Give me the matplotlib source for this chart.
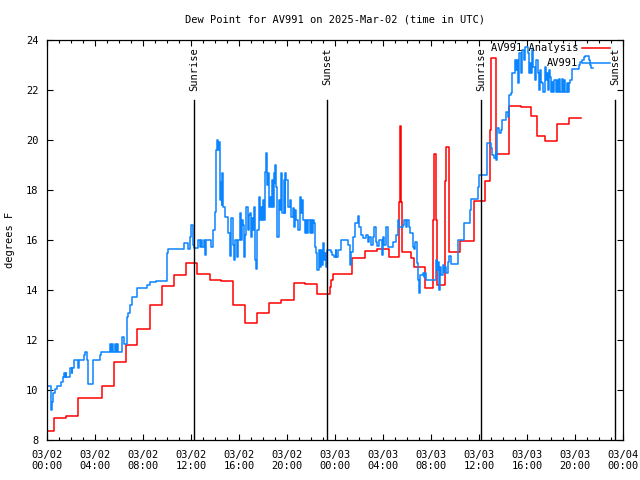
import matplotlib
matplotlib.use("Agg")
import matplotlib.pyplot as plt

plt.rcParams['font.family'] = ['DejaVu Sans Mono']
plt.rcParams['font.size'] = 7.5

# hours since 03/02 00:00 UTC
red_hours = [0, 0.6, 1.6, 2.55, 4.55, 5.55, 6.55, 7.5, 8.55, 9.6, 10.6, 11.6,
             12.5, 13.55, 14.5, 15.5, 16.5, 17.5, 18.5, 19.5, 20.55, 21.5, 22.5,
             23.55, 23.7, 23.85, 25.4, 26.5, 27.5, 28.5, 29.37, 29.45, 29.52,
             29.6, 30.35, 30.55, 31.5, 32.17, 32.25, 32.43, 32.5, 33.13, 33.2,
             33.28, 33.47, 34.45, 35.55, 36.46, 36.88, 36.96, 37.45, 38.5,
             39.46, 40.35, 40.8, 41.54, 42.46, 43.48, 44.5]
red_vals = [8.36, 8.9, 8.97, 9.7, 10.15, 11.1, 11.8, 12.44, 13.39, 14.16, 14.6,
            15.07, 14.64, 14.4, 14.35, 13.4, 12.7, 13.07, 13.47, 13.59, 14.27,
            14.23, 13.84, 14.1, 14.4, 14.64, 15.27, 15.55, 15.63, 15.32, 17.5,
            20.56, 17.5, 15.53, 15.27, 14.93, 14.08, 16.8, 19.44, 16.8, 14.2,
            15.53, 18.36, 19.7, 15.5, 15.97, 17.57, 18.35, 20.4, 23.27, 19.44,
            21.37, 21.3, 20.96, 20.17, 19.96, 20.63, 20.87, 20.87]

blue_hours = [0.00, 0.30, 0.39, 0.52, 0.67, 0.80, 1.16, 1.36, 1.42, 1.48, 1.55,
              1.62, 1.91, 2.05, 2.12, 2.27, 2.60, 2.69, 3.10, 3.20, 3.30, 3.44,
              3.85, 4.41, 4.50, 5.24, 5.34, 5.44, 5.54, 5.64, 5.74, 5.84, 5.93,
              6.27, 6.40, 6.68, 6.76, 6.90, 7.05, 7.51, 8.34, 8.60, 9.07, 9.96,
              10.05, 11.40, 11.76, 11.90,
              12.04, 12.17, 12.29, 12.59, 12.73, 12.83, 12.95, 13.06, 13.14,
              13.29, 13.70, 13.84, 14.03, 14.12, 14.18, 14.25, 14.31, 14.39,
              14.47, 14.55, 14.62, 14.70, 14.80, 15.10, 15.22, 15.37, 15.50,
              15.60, 15.70, 15.85, 15.95, 16.06, 16.15, 16.25, 16.33, 16.42,
              16.52, 16.61, 16.72, 16.80, 16.89, 17.00, 17.08, 17.16, 17.25,
              17.35, 17.42, 17.53, 17.64, 17.72, 17.80, 17.90, 17.99, 18.10,
              18.19, 18.28, 18.36, 18.41, 18.48, 18.55, 18.65, 18.74, 18.82,
              18.91, 18.97, 19.03, 19.11, 19.19, 19.30, 19.42, 19.53, 19.62,
              19.72, 19.80, 19.87, 19.94, 20.08, 20.22, 20.35, 20.49, 20.60,
              20.68, 20.77, 20.90, 21.05, 21.18, 21.25, 21.32, 21.46, 21.55,
              21.66, 21.76, 21.88, 21.98, 22.08, 22.16, 22.24, 22.34, 22.44,
              22.52, 22.63, 22.72, 22.82, 22.90, 22.99, 23.08, 23.16, 23.22,
              23.30, 23.69, 23.78, 23.90, 24.05, 24.12, 24.29, 24.46, 25.07,
              25.21, 25.35, 25.48, 25.68, 25.90, 25.98, 26.18, 26.31, 26.60,
              26.74, 26.87, 27.01, 27.15, 27.29, 27.40, 27.51, 27.70, 27.90,
              28.00, 28.12, 28.26, 28.40, 28.62, 28.81, 29.09, 29.23, 29.37,
              29.64, 29.78, 29.90, 30.02, 30.14, 30.28, 30.47, 30.62, 30.70,
              30.84, 30.95, 31.02, 31.11, 31.31, 31.45, 31.51, 31.59, 32.42,
              32.48, 32.55, 32.65, 32.75, 32.86, 32.97, 33.05, 33.11, 33.25,
              33.39, 33.53, 33.67, 34.22, 34.78, 35.27, 35.33, 35.88, 36.02,
              36.63, 36.96, 37.10, 37.25, 37.38, 37.45, 37.52, 37.69, 37.80,
              37.92, 38.29, 38.41, 38.54, 38.63, 38.75, 39.04, 39.11, 39.18,
              39.26, 39.33, 39.47, 39.60, 39.73, 39.87, 40.07, 40.18, 40.29,
              40.36, 40.43, 40.50, 40.68, 40.79, 40.89, 40.99, 41.06, 41.12,
              41.19, 41.26, 41.33, 41.47, 41.54, 41.61, 41.68, 41.75, 41.82,
              41.89, 41.96, 42.03, 42.10, 42.19, 42.29, 42.40, 42.51, 42.60,
              42.70, 42.79, 42.90, 43.01, 43.10, 43.20, 43.30, 43.40, 43.49,
              43.62, 43.76, 44.31, 44.45, 44.60, 44.75, 44.87, 45.15, 45.25,
              45.34, 45.50]
blue_vals = [10.16, 9.20, 9.53, 9.87, 10.03, 10.16, 10.33, 10.53, 10.67, 10.53,
             10.67, 10.53, 10.87, 10.67, 10.87, 11.20, 10.87, 11.20, 11.40,
             11.53, 11.20, 10.24, 11.20, 11.40, 11.53, 11.83, 11.53, 11.83,
             11.53, 11.83, 11.53, 11.83, 11.53, 12.13, 11.83, 12.93, 13.07,
             13.40, 13.73, 14.07, 14.20, 14.33, 14.36, 15.47, 15.63, 15.89,
             15.63, 16.13,
             16.60, 15.80, 15.67, 16.00, 15.70, 16.00, 15.70, 16.00, 15.40,
             16.00, 15.70, 16.40, 17.13, 19.60, 20.00, 19.60, 19.90, 17.60,
             18.30, 17.40, 18.67, 17.33, 16.93, 16.27, 15.35, 16.87, 15.80,
             15.20, 16.00, 15.30, 16.00, 17.07, 16.00, 16.80, 16.60, 15.30,
             16.20, 17.30, 16.40, 17.00, 17.07, 16.13, 16.90, 16.40, 17.33,
             15.20, 14.85, 16.40, 17.73, 16.80, 17.33, 16.80, 17.60, 16.80,
             18.73, 19.47, 18.20, 18.67, 17.33, 17.73, 17.30, 18.40, 17.33,
             18.67, 18.27, 19.00, 18.13, 16.13, 17.60, 17.20, 18.67, 17.07,
             18.40, 17.07, 18.67, 18.40, 17.33, 17.60, 16.93, 17.27, 16.53,
             17.20, 16.80, 16.40, 17.73, 17.07, 17.60, 16.80, 16.27, 16.80,
             16.27, 16.80, 16.27, 16.80, 16.27, 16.80, 16.67, 15.73, 15.47,
             14.80, 15.60, 14.93, 15.60, 15.00, 15.87, 15.20, 15.47, 14.93,
             15.60, 15.53, 15.40, 15.33, 15.60, 15.33, 15.60, 16.00, 15.80,
             15.00, 15.50, 16.10, 16.67, 16.96, 16.50, 16.20, 16.07, 16.20,
             15.90, 16.13, 15.80, 16.10, 16.50, 15.90, 15.75, 16.00, 15.40,
             16.10, 15.80, 16.53, 15.73, 15.70, 15.90, 16.20, 16.80, 16.53,
             16.60, 16.80, 16.53, 16.80, 16.53, 16.27, 15.70, 15.65, 15.90,
             15.07, 14.40, 13.87, 14.60, 14.67, 14.53, 14.67, 14.40, 15.20,
             14.80, 15.10, 14.00, 14.90, 14.60, 15.00, 14.70, 14.93, 14.67,
             15.13, 15.36, 15.04, 16.00, 16.67, 17.20, 17.63, 18.13, 18.59,
             19.87, 19.67, 19.40, 19.27, 19.50, 19.20, 20.47, 20.27, 20.40,
             20.80, 21.13, 20.93, 21.80, 21.87, 22.67, 23.20, 22.80, 23.20,
             22.27, 23.47, 22.67, 23.60, 23.20, 23.73, 23.47, 22.67, 23.07,
             22.67, 23.60, 22.93, 22.40, 23.20, 22.67, 22.00, 22.67, 22.80,
             22.33, 22.27, 21.93, 22.67, 22.93, 22.40, 22.67, 22.00, 22.80,
             22.53, 22.40, 21.93, 22.33, 21.93, 22.40, 21.93, 22.40, 21.93,
             22.43, 21.93, 22.43, 21.93, 22.40, 21.93, 22.27, 21.93, 22.27,
             22.40, 22.83, 23.00, 23.13, 23.20, 23.33, 23.36, 23.20, 23.00,
             22.87, 22.87]

sun_hours = [12.23, 23.32, 36.17, 47.33]
sun_labels = ['Sunrise', 'Sunset', 'Sunrise', 'Sunset']

tick_hours = list(range(0, 49, 4))
tick_labels = ['03/02\n00:00', '03/02\n04:00', '03/02\n08:00', '03/02\n12:00',
               '03/02\n16:00', '03/02\n20:00', '03/03\n00:00', '03/03\n04:00',
               '03/03\n08:00', '03/03\n12:00', '03/03\n16:00', '03/03\n20:00',
               '03/04\n00:00']

fig = plt.figure(figsize=(6.4, 4.8), dpi=100)
ax = fig.add_axes([47/640, 40/480, 576/640, 400/480])

ax.plot(red_hours, red_vals, drawstyle='steps-post', color='#ff0000', lw=1.1)
ax.plot(blue_hours, blue_vals, drawstyle='steps-post', color='#0a84ff', lw=1.1)

for h, lab in zip(sun_hours, sun_labels):
    ax.plot([h, h], [8, 21.6], color='black', lw=1)
    ax.text(h, 23.7, lab, rotation=90, ha='center', va='top')

ax.set_xlim(0, 48)
ax.set_ylim(8, 24)
ax.set_xticks(tick_hours)
ax.set_xticklabels(tick_labels)
ax.set_xticks(range(0, 49), minor=True)
ax.set_yticks(range(8, 25, 2))
ax.tick_params(which='both', direction='in', top=True, right=True, width=0.8)
ax.tick_params(which='major', length=4.5)
ax.tick_params(which='minor', length=2.3)
ax.tick_params(axis='x', pad=7)
ax.tick_params(axis='y', pad=6)
for s in ax.spines.values():
    s.set_linewidth(0.9)

# key, drawn like gnuplot's (text right-aligned, sample after it)
ax.text(0.922, 0.98, 'AV991 Analysis', transform=ax.transAxes, ha='right', va='center')
ax.plot([0.929, 0.977], [0.98, 0.98], transform=ax.transAxes, color='#ff0000', lw=1.1)
ax.text(0.922, 0.9425, 'AV991', transform=ax.transAxes, ha='right', va='center')
ax.plot([0.929, 0.977], [0.9425, 0.9425], transform=ax.transAxes, color='#0a84ff', lw=1.1)

fig.text(335/640, 1 - 19/480, 'Dew Point for AV991 on 2025-Mar-02 (time in UTC)',
         ha='center', va='center')
fig.text(10/640, 240/480, 'degrees F', rotation=90, ha='center', va='center')

fig.savefig('out.png', dpi=100)
